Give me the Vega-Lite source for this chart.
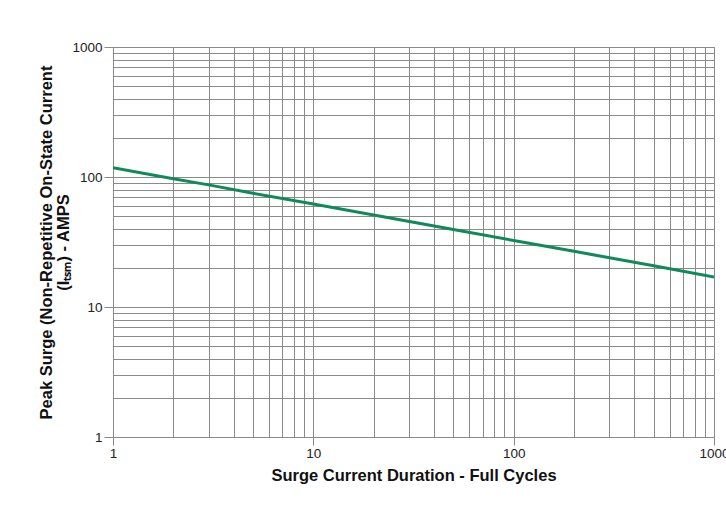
{
  "$schema": "https://vega.github.io/schema/vega-lite/v6.json",
  "width": 601,
  "height": 390,
  "autosize": {"type": "none"},
  "padding": {"left": 113, "top": 47, "right": 12, "bottom": 94},
  "background": "white",
  "config": {
    "font": "Liberation Sans",
    "view": {"stroke": "#8a8a8a", "strokeWidth": 1},
    "axis": {
      "labelFont": "Liberation Sans",
      "labelFontSize": 13.5,
      "labelColor": "#222",
      "titleFont": "Liberation Sans",
      "titleFontSize": 16.5,
      "titleFontWeight": "bold",
      "titleColor": "#111",
      "gridColor": "#8a8a8a",
      "gridWidth": 1,
      "gridOpacity": 1,
      "domainColor": "#8a8a8a",
      "tickColor": "#8a8a8a"
    }
  },
  "data": {
    "values": [
      {"cycles": 1, "current": 118},
      {"cycles": 2, "current": 97},
      {"cycles": 3, "current": 87},
      {"cycles": 5, "current": 75},
      {"cycles": 10, "current": 62},
      {"cycles": 20, "current": 51},
      {"cycles": 50, "current": 39.5},
      {"cycles": 100, "current": 32.5},
      {"cycles": 200, "current": 26.8},
      {"cycles": 500, "current": 20.8},
      {"cycles": 1000, "current": 17}
    ]
  },
  "mark": {"type": "line", "color": "#0f8a5c", "strokeWidth": 3, "clip": true},
  "encoding": {
    "x": {
      "field": "cycles",
      "type": "quantitative",
      "scale": {"type": "log", "domain": [1, 1000], "nice": false},
      "axis": {
        "title": "Surge Current Duration - Full Cycles",
        "values": [1,2,3,4,5,6,7,8,9,10,20,30,40,50,60,70,80,90,100,200,300,400,500,600,700,800,900,1000],
        "labelExpr": "indexof([1,10,100,1000], datum.value) >= 0 ? datum.label : ''",
        "format": "d",
        "tickOpacity": {"condition": {"test": "indexof([1,10,100,1000], datum.value) >= 0", "value": 1}, "value": 0},
        "tickSize": 8,
        "labelPadding": 1,
        "titlePadding": 8,
        "labelFlush": false,
        "labelOverlap": false
      }
    },
    "y": {
      "field": "current",
      "type": "quantitative",
      "scale": {"type": "log", "domain": [1, 1000], "nice": false},
      "axis": {
        "title": ["Peak Surge (Non-Repetitive On-State Current", "(Iₜₛₘ) - AMPS"],
        "titleLineHeight": 17,
        "values": [1,2,3,4,5,6,7,8,9,10,20,30,40,50,60,70,80,90,100,200,300,400,500,600,700,800,900,1000],
        "labelExpr": "indexof([1,10,100,1000], datum.value) >= 0 ? datum.label : ''",
        "format": "d",
        "tickOpacity": {"condition": {"test": "indexof([1,10,100,1000], datum.value) >= 0", "value": 1}, "value": 0},
        "tickSize": 9,
        "labelPadding": 2,
        "titlePadding": 0,
        "labelOverlap": false,
        "labelFlush": false
      }
    }
  }
}
